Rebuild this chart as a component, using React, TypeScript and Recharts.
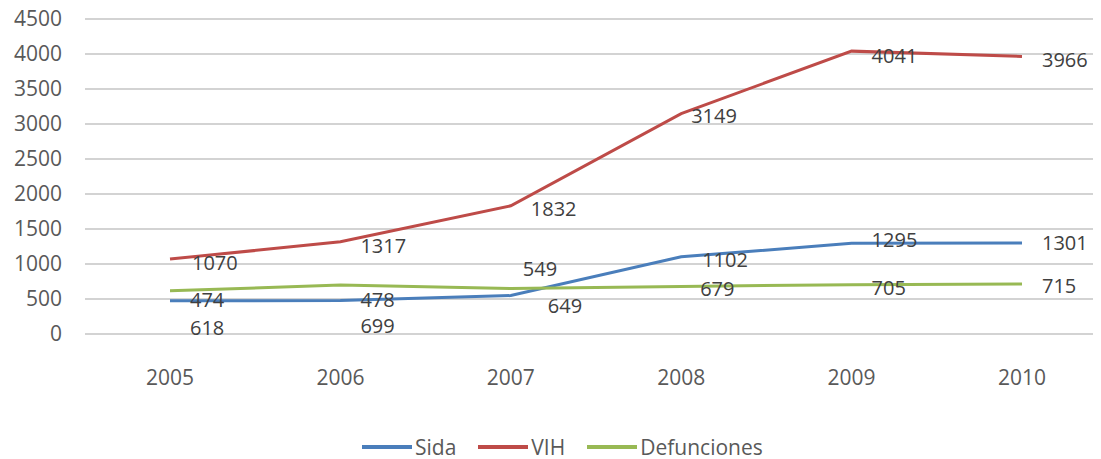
import { LineChart, CartesianGrid, XAxis, YAxis, Legend, Line, LabelList } from "recharts";

const years = ["2005", "2006", "2007", "2008", "2009", "2010"];
const sida = [474, 478, 549, 1102, 1295, 1301];
const vih = [1070, 1317, 1832, 3149, 4041, 3966];
const defunciones = [618, 699, 649, 679, 705, 715];
const yTicks = [0, 500, 1000, 1500, 2000, 2500, 3000, 3500, 4000, 4500];

const data = years.map((year, i) => ({
    year,
    sida: sida[i],
    vih: vih[i],
    defunciones: defunciones[i],
}));

// label nudges (dx, dy) per point, as placed in the original chart
const sidaNudge = [[20, -1], [20, -1], [12, -27], [21, 3], [20, -4], [20, 0]];
const vihNudge = [[22, 3], [20, 4], [20, 3], [10, 2], [20, 4], [20, 3]];
const defNudge = [[20, 37], [20, 40], [37, 17], [19, 2], [20, 3], [20, 2]];

const FONT = "'Open Sans', sans-serif";

const makeLabel = (nudge: number[][]) => (props: any) => {
    const { x, y, value, index } = props;
    const [dx, dy] = nudge[index] || [20, 0];
    return (
        <text
            x={Number(x) + dx}
            y={Number(y) + dy}
            dominantBaseline="central"
            textAnchor="start"
            fill="#404040"
            fontSize={20}
            fontFamily={FONT}
        >
            {value}
        </text>
    );
};

const legendItems = [
    { name: "Sida", color: "#4a7ebb" },
    { name: "VIH", color: "#be4b48" },
    { name: "Defunciones", color: "#98b954" },
];

const ChartLegend = () => (
    <div
        style={{
            height: 65,
            display: "flex",
            alignItems: "flex-end",
            paddingLeft: 362,
            boxSizing: "border-box",
            paddingBottom: 2,
        }}
    >
        {legendItems.map((item) => (
            <div key={item.name} style={{ display: "flex", alignItems: "center", marginRight: 22 }}>
                <svg width={50} height={4} style={{ marginRight: 3 }}>
                    <line x1={0} y1={2} x2={50} y2={2} stroke={item.color} strokeWidth={4} />
                </svg>
                <span style={{ fontFamily: FONT, fontSize: 21, color: "#595959", lineHeight: "20px" }}>
                    {item.name}
                </span>
            </div>
        ))}
    </div>
);

const App = () => {
    return (
        <div style={{ position: "absolute", left: 0, top: 0, background: "#fff" }}>
            <LineChart data={data} width={1101} height={459} margin={{ top: 19, right: 8, left: 0, bottom: 0 }}>
                <CartesianGrid vertical={false} stroke="#c4c4c4" strokeWidth={1.5} />
                <XAxis
                    dataKey="year"
                    axisLine={false}
                    tickLine={false}
                    tickSize={0}
                    tickMargin={36}
                    height={60}
                    padding={{ left: 85, right: 71 }}
                    tick={{ fill: "#595959", fontSize: 21, fontFamily: FONT }}
                />
                <YAxis
                    domain={[0, 4500]}
                    ticks={yTicks}
                    axisLine={false}
                    tickLine={false}
                    tickSize={0}
                    tickMargin={23}
                    width={85}
                    tick={{ fill: "#595959", fontSize: 21, fontFamily: FONT }}
                />
                <Legend verticalAlign="bottom" height={65} content={() => <ChartLegend />} />
                <Line type="linear" dataKey="sida" name="Sida" stroke="#4a7ebb" strokeWidth={3} dot={false} isAnimationActive={false}>
                    <LabelList dataKey="sida" content={makeLabel(sidaNudge)} />
                </Line>
                <Line type="linear" dataKey="vih" name="VIH" stroke="#be4b48" strokeWidth={3} dot={false} isAnimationActive={false}>
                    <LabelList dataKey="vih" content={makeLabel(vihNudge)} />
                </Line>
                <Line type="linear" dataKey="defunciones" name="Defunciones" stroke="#98b954" strokeWidth={3} dot={false} isAnimationActive={false}>
                    <LabelList dataKey="defunciones" content={makeLabel(defNudge)} />
                </Line>
            </LineChart>
        </div>
    );
};

export default App;
